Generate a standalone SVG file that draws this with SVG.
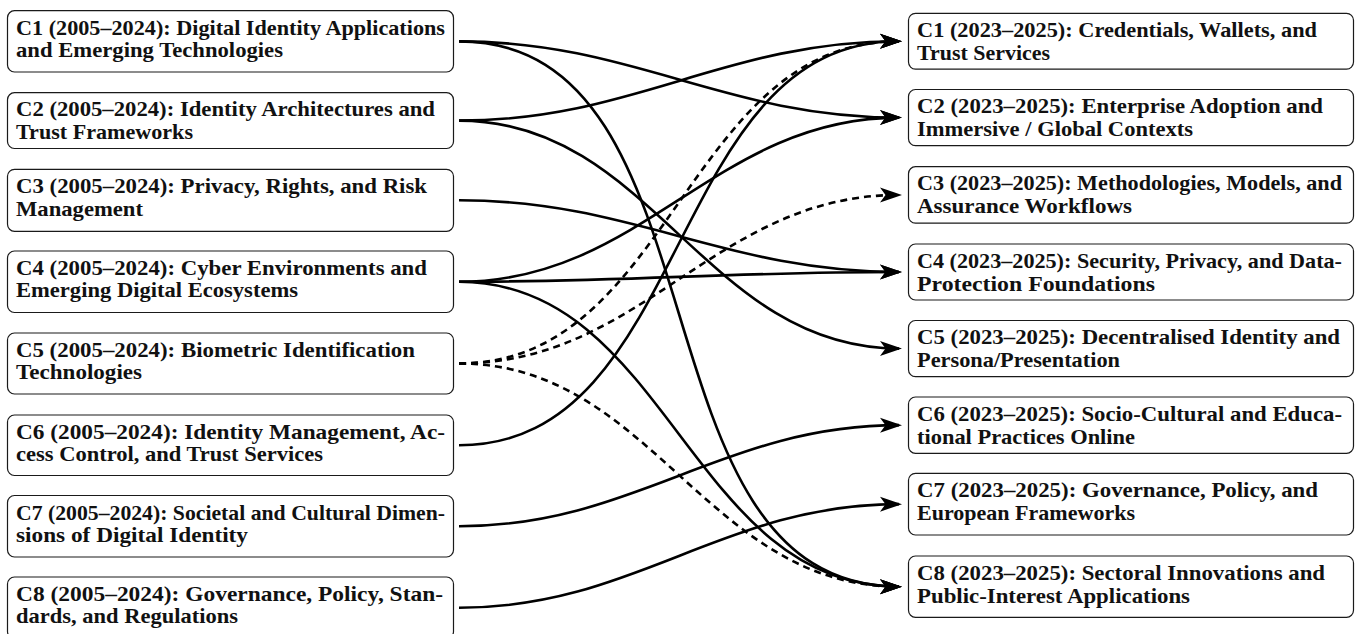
<svg xmlns="http://www.w3.org/2000/svg" width="1361" height="634" viewBox="0 0 1361 634">
<style>
.box{fill:#fff;stroke:#1a1a1a;stroke-width:1.2}
.t{font-family:"Liberation Serif","Times New Roman",serif;font-weight:bold;font-size:21px;fill:#111}
.e{fill:none;stroke:#000;stroke-width:2.6}
.d{stroke-dasharray:7 5}
</style>
<defs>
<marker id="arr" markerUnits="userSpaceOnUse" viewBox="-22 -9 26 18" refX="0" refY="0" markerWidth="26" markerHeight="18" orient="auto">
<path d="M3,0 L-19,-7.5 L-13.5,0 L-19,7.5 Z" fill="#000"/>
</marker>
</defs>
<rect width="1361" height="634" fill="#fff"/>

<g id="connectors">
<path class="e" marker-end="url(#arr)" d="M459,41.35 C633.8,41.35 724.2,117.6 899,117.6"/>
<path class="e" marker-end="url(#arr)" d="M459,41.35 C733.3,41.35 624.7,586.65 899,586.65"/>
<path class="e" marker-end="url(#arr)" d="M459,120.6 C634,120.6 724,41.2 899,41.2"/>
<path class="e" marker-end="url(#arr)" d="M459,120.6 C653,120.6 705,348.6 899,348.6"/>
<path class="e" marker-end="url(#arr)" d="M459,200.3 C633.6,200.3 724.4,272 899,272"/>
<path class="e" marker-end="url(#arr)" d="M459,281.75 C642.8,281.75 715.2,117.6 899,117.6"/>
<path class="e" marker-end="url(#arr)" d="M459,281.75 C631.3,281.75 726.7,272 899,272"/>
<path class="e" marker-end="url(#arr)" d="M459,281.75 C668.6,281.75 689.4,586.65 899,586.65"/>
<path class="e d" marker-end="url(#arr)" d="M459,363.5 C672.4,363.5 685.6,41.2 899,41.2"/>
<path class="e d" marker-end="url(#arr)" d="M459,363.5 C643.4,363.5 714.6,194.95 899,194.95"/>
<path class="e d" marker-end="url(#arr)" d="M459,363.5 C652.2,363.5 705.8,586.65 899,586.65"/>
<path class="e" marker-end="url(#arr)" d="M459,445.25 C692.7,445.25 665.3,41.2 899,41.2"/>
<path class="e" marker-end="url(#arr)" d="M459,526.25 C635.7,526.25 722.3,425.15 899,425.15"/>
<path class="e" marker-end="url(#arr)" d="M459,607.75 C635.9,607.75 722.1,504.15 899,504.15"/>
</g>

<g id="L1"><rect class="box" x="7.5" y="10.7" width="446" height="61.3" rx="7"/>
<text class="t" x="16" y="34.7" textLength="429" lengthAdjust="spacingAndGlyphs">C1 (2005–2024): Digital Identity Applications</text>
<text class="t" x="16" y="57" textLength="267" lengthAdjust="spacingAndGlyphs">and Emerging Technologies</text></g>

<g id="L2"><rect class="box" x="7.5" y="92.7" width="446" height="55.8" rx="7"/>
<text class="t" x="16" y="116.2" textLength="419" lengthAdjust="spacingAndGlyphs">C2 (2005–2024): Identity Architectures and</text>
<text class="t" x="16" y="138.5" textLength="177" lengthAdjust="spacingAndGlyphs">Trust Frameworks</text></g>

<g id="L3"><rect class="box" x="7.5" y="169.3" width="446" height="62" rx="7"/>
<text class="t" x="16" y="193.3" textLength="411" lengthAdjust="spacingAndGlyphs">C3 (2005–2024): Privacy, Rights, and Risk</text>
<text class="t" x="16" y="215.6" textLength="127" lengthAdjust="spacingAndGlyphs">Management</text></g>

<g id="L4"><rect class="box" x="7.5" y="251" width="446" height="61.5" rx="7"/>
<text class="t" x="16" y="275" textLength="411" lengthAdjust="spacingAndGlyphs">C4 (2005–2024): Cyber Environments and</text>
<text class="t" x="16" y="297.3" textLength="282" lengthAdjust="spacingAndGlyphs">Emerging Digital Ecosystems</text></g>

<g id="L5"><rect class="box" x="7.5" y="333" width="446" height="61" rx="7"/>
<text class="t" x="16" y="357" textLength="399" lengthAdjust="spacingAndGlyphs">C5 (2005–2024): Biometric Identification</text>
<text class="t" x="16" y="379.3" textLength="126" lengthAdjust="spacingAndGlyphs">Technologies</text></g>

<g id="L6"><rect class="box" x="7.5" y="415" width="446" height="60.5" rx="7"/>
<text class="t" x="16" y="439" textLength="429" lengthAdjust="spacingAndGlyphs">C6 (2005–2024): Identity Management, Ac-</text>
<text class="t" x="16" y="461.3" textLength="307" lengthAdjust="spacingAndGlyphs">cess Control, and Trust Services</text></g>

<g id="L7"><rect class="box" x="7.5" y="495.5" width="446" height="61.5" rx="7"/>
<text class="t" x="16" y="519.5" textLength="429" lengthAdjust="spacingAndGlyphs">C7 (2005–2024): Societal and Cultural Dimen-</text>
<text class="t" x="16" y="541.8" textLength="232" lengthAdjust="spacingAndGlyphs">sions of Digital Identity</text></g>

<g id="L8"><rect class="box" x="7.5" y="577" width="446" height="61.5" rx="7"/>
<text class="t" x="16" y="601" textLength="427" lengthAdjust="spacingAndGlyphs">C8 (2005–2024): Governance, Policy, Stan-</text>
<text class="t" x="16" y="623.3" textLength="222" lengthAdjust="spacingAndGlyphs">dards, and Regulations</text></g>

<g id="R1"><rect class="box" x="908.5" y="13.3" width="445" height="55.8" rx="7"/>
<text class="t" x="917" y="36.8" textLength="400" lengthAdjust="spacingAndGlyphs">C1 (2023–2025): Credentials, Wallets, and</text>
<text class="t" x="917" y="59.8" textLength="133" lengthAdjust="spacingAndGlyphs">Trust Services</text></g>

<g id="R2"><rect class="box" x="908.5" y="89.5" width="445" height="56.2" rx="7"/>
<text class="t" x="917" y="113" textLength="406" lengthAdjust="spacingAndGlyphs">C2 (2023–2025): Enterprise Adoption and</text>
<text class="t" x="917" y="136" textLength="276" lengthAdjust="spacingAndGlyphs">Immersive / Global Contexts</text></g>

<g id="R3"><rect class="box" x="908.5" y="166.7" width="445" height="56.5" rx="7"/>
<text class="t" x="917" y="190.2" textLength="425" lengthAdjust="spacingAndGlyphs">C3 (2023–2025): Methodologies, Models, and</text>
<text class="t" x="917" y="213.2" textLength="215" lengthAdjust="spacingAndGlyphs">Assurance Workflows</text></g>

<g id="R4"><rect class="box" x="908.5" y="244" width="445" height="56" rx="7"/>
<text class="t" x="917" y="267.5" textLength="425" lengthAdjust="spacingAndGlyphs">C4 (2023–2025): Security, Privacy, and Data-</text>
<text class="t" x="917" y="290.5" textLength="238" lengthAdjust="spacingAndGlyphs">Protection Foundations</text></g>

<g id="R5"><rect class="box" x="908.5" y="320.5" width="445" height="56.2" rx="7"/>
<text class="t" x="917" y="344" textLength="423" lengthAdjust="spacingAndGlyphs">C5 (2023–2025): Decentralised Identity and</text>
<text class="t" x="917" y="367" textLength="203" lengthAdjust="spacingAndGlyphs">Persona/Presentation</text></g>

<g id="R6"><rect class="box" x="908.5" y="397" width="445" height="56.3" rx="7"/>
<text class="t" x="917" y="420.5" textLength="425" lengthAdjust="spacingAndGlyphs">C6 (2023–2025): Socio-Cultural and Educa-</text>
<text class="t" x="917" y="443.5" textLength="218" lengthAdjust="spacingAndGlyphs">tional Practices Online</text></g>

<g id="R7"><rect class="box" x="908.5" y="473.3" width="445" height="61.7" rx="7"/>
<text class="t" x="917" y="496.8" textLength="401" lengthAdjust="spacingAndGlyphs">C7 (2023–2025): Governance, Policy, and</text>
<text class="t" x="917" y="519.8" textLength="218" lengthAdjust="spacingAndGlyphs">European Frameworks</text></g>

<g id="R8"><rect class="box" x="908.5" y="556" width="445" height="61.3" rx="7"/>
<text class="t" x="917" y="579.5" textLength="408" lengthAdjust="spacingAndGlyphs">C8 (2023–2025): Sectoral Innovations and</text>
<text class="t" x="917" y="602.5" textLength="273" lengthAdjust="spacingAndGlyphs">Public-Interest Applications</text></g>
</svg>
